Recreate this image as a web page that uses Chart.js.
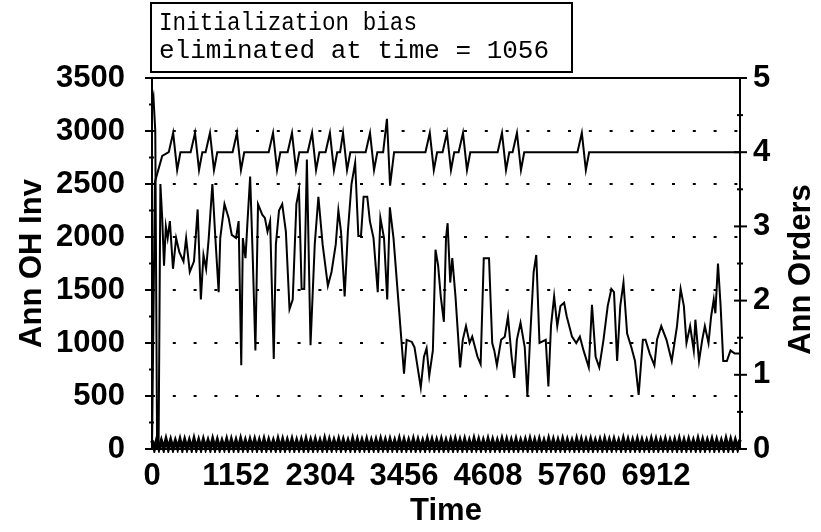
<!DOCTYPE html>
<html>
<head>
<meta charset="utf-8">
<script src="https://cdn.jsdelivr.net/npm/chart.js@4.4.1/dist/chart.umd.min.js"></script>
<style>
  html, body { margin: 0; padding: 0; background: #fff; }
</style>
</head>
<body>
<canvas id="chart" width="821" height="532"></canvas>
<script>
// Time axis ticks (every 1152, last one left unlabelled)
const timeTicks = [0, 1152, 2304, 3456, 4608, 5760, 6912, 8064];
const timeLabels = ['0', '1152', '2304', '3456', '4608', '5760', '6912', ''];

// Ann OH Inv (left axis)
const invTimes = [
  0, 20, 45, 70, 90, 115, 140, 165, 190, 215, 245, 288, 331, 374, 432, 468, 518, 576, 626, 670,
  706, 742, 778, 828, 864, 914, 936, 994, 1051, 1094, 1152, 1188, 1224, 1246, 1282, 1310, 1346, 1382, 1418, 1454,
  1512, 1548, 1584, 1620, 1670, 1699, 1742, 1786, 1836, 1886, 1930, 1980, 2016, 2052, 2088, 2124, 2174, 2232, 2282, 2340,
  2412, 2462, 2520, 2556, 2592, 2642, 2686, 2736, 2786, 2830, 2866, 2902, 2952, 2988, 3038, 3096, 3132, 3182, 3226, 3262,
  3312, 3420, 3456, 3492, 3564, 3600, 3636, 3686, 3730, 3766, 3802, 3852, 3888, 3924, 3960, 4003, 4032, 4054, 4090, 4118,
  4162, 4226, 4262, 4306, 4356, 4392, 4464, 4507, 4550, 4622, 4666, 4694, 4730, 4788, 4838, 4882, 4932, 4968, 5004, 5054,
  5112, 5148, 5184, 5234, 5270, 5314, 5400, 5436, 5472, 5515, 5558, 5602, 5652, 5688, 5760, 5818, 5868, 5918, 5990, 6034,
  6084, 6134, 6192, 6250, 6300, 6336, 6379, 6422, 6466, 6516, 6574, 6624, 6674, 6732, 6768, 6826, 6890, 6926, 6984, 7056,
  7128, 7200, 7250, 7294, 7330, 7380, 7430, 7452, 7502, 7546, 7582, 7632, 7668, 7704, 7726, 7762, 7798, 7834, 7884, 7934,
  7992, 8064
];
const invVals = [
  3250, 3320, 3000, 0, 0, 2500, 2180, 1730, 2100, 1990, 2150, 1700, 1990, 1860, 1770, 1990, 1670, 1770, 2260, 1410,
  1830, 1700, 1990, 2500, 2050, 1480, 1990, 2310, 2180, 2020, 1990, 2150, 790, 1990, 1800, 2150, 2570, 1800, 930, 2310,
  2210, 2180, 2050, 2150, 850, 1930, 2250, 2310, 2050, 1320, 1410, 2310, 2440, 1510, 1510, 2730, 980, 1930, 2380, 1930,
  1540, 1670, 1930, 2250, 2050, 1440, 2050, 2500, 2700, 2010, 2010, 2380, 2380, 2150, 1990, 1480, 2180, 1990, 1410, 2280,
  1990, 1030, 710, 1030, 1010, 960, 800, 580, 870, 950, 690, 930, 1880, 1730, 1440, 1200, 1990, 2130, 1570, 1800,
  1440, 770, 1030, 1160, 1000, 1060, 870, 800, 1800, 1800, 1000, 930, 790, 1030, 1060, 1250, 870, 670, 1030, 1190,
  960, 500, 1030, 1670, 1830, 1000, 1030, 590, 1160, 1440, 1160, 1350, 1380, 1250, 1060, 1000, 1060, 930, 770, 1360,
  870, 770, 1030, 1350, 1510, 1480, 830, 1350, 1570, 1090, 960, 830, 510, 1030, 1030, 900, 790, 1030, 1160, 1030,
  830, 1160, 1510, 1350, 1000, 1160, 930, 1220, 830, 1030, 1160, 1000, 1250, 1410, 1280, 1750, 1350, 830, 830, 930,
  900, 900
];

// Ann Orders (right axis)
const ordTimes = [
  0, 40, 140, 230, 290, 345, 390, 530, 590, 645, 690, 735, 795, 850, 895,
  1105, 1165, 1220, 1265, 1600, 1660, 1715, 1760, 1860, 1920, 1975, 2020,
  2135, 2195, 2250, 2295, 2380, 2440, 2495, 2540, 2580, 2620, 2675, 2720,
  2930, 2990, 3045, 3090, 3170, 3222, 3265, 3320, 3750, 3810, 3865, 3910,
  3985, 4045, 4100, 4145, 4205, 4265, 4320, 4365, 4740, 4800, 4855, 4900,
  4945, 5005, 5060, 5105, 5835, 5895, 5950, 5995, 8064
];
const ordVals = [
  0, 3.6, 3.95, 4, 4.26, 3.76, 4, 4, 4.26, 3.76, 4, 4, 4.26, 3.76, 4,
  4, 4.26, 3.76, 4, 4, 4.26, 3.76, 4, 4, 4.26, 3.76, 4,
  4, 4.26, 3.76, 4, 4, 4.26, 3.76, 4, 4, 4.26, 3.76, 4,
  4, 4.26, 3.76, 4, 4, 4.45, 3.55, 4, 4, 4.26, 3.76, 4,
  4, 4.26, 3.76, 4, 4, 4.26, 3.76, 4, 4, 4.26, 3.76, 4,
  4, 4.26, 3.76, 4, 4, 4.26, 3.76, 4, 4
];

// dense per-period band along the bottom (left axis), one value every 32 time units
const bandStep = 32;
const bandVals = [
  80,0,85,4,78,0,90,2,82,0,76,6,88,0,84,3,79,0,92,1,
  81,0,86,5,77,0,89,2,83,0,75,4,87,0,85,2,80,0,91,3,
  78,0,84,6,86,0,79,1,88,0,82,4,76,0,90,2,85,0,80,5,
  87,0,78,3,83,0,89,1,81,0,86,4,77,0,92,2,84,0,79,6,
  88,0,82,3,76,0,90,1,85,0,80,4,87,0,78,2,83,0,89,5,
  81,0,86,3,77,0,91,1,84,0,79,4,88,0,82,2,76,0,90,6,
  85,0,80,3,87,0,78,1,83,0,89,4,81,0,86,2,77,0,92,5,
  84,0,79,3,88,0,82,1,76,0,90,4,85,0,80,2,87,0,78,6,
  83,0,89,3,81,0,86,1,77,0,91,4,84,0,79,2,88,0,82,5,
  76,0,90,3,85,0,80,1,87,0,78,4,83,0,89,2,81,0,86,6,
  77,0,92,3,84,0,79,1,88,0,82,4,76,0,90,2,85,0,80,5,
  87,0,78,3,83,0,89,1,81,0,86,4,77,0,91,2,84,0,79,6,
  88,0,82,3,76,0,90,1,85,0,80,4,87,0
];

const noteLines = ['Initialization bias', 'eliminated at time = 1056'];

const invPoints = invTimes.map((t, i) => ({ x: t, y: invVals[i] }));
const ordPoints = ordTimes.map((t, i) => ({ x: t, y: ordVals[i] }));
const bandPoints = bandVals.map((v, i) => ({ x: i * bandStep, y: v }));

const labelFont = { family: 'Liberation Sans', size: 31, weight: 'bold' };

// frame, small tick marks, the note box and the right-hand title
const extras = {
  id: 'extras',
  afterDraw(chart) {
    const { ctx, chartArea: a, scales } = chart;
    ctx.save();
    ctx.strokeStyle = '#000';
    ctx.fillStyle = '#000';
    ctx.lineWidth = 2;
    ctx.strokeRect(a.left, a.top, a.right - a.left, a.bottom - a.top);

    // left axis marks: 500 major, 250 minor
    for (let v = 0; v <= 3500; v += 250) {
      const y = scales.y.getPixelForValue(v);
      const major = v % 500 === 0;
      ctx.beginPath();
      ctx.moveTo(a.left - (major ? 7 : 3), y);
      ctx.lineTo(a.left + (major ? 3 : 2), y);
      ctx.stroke();
    }
    // right axis marks: 1 major, 0.5 minor
    for (let v = 0; v <= 5; v += 0.5) {
      const y = scales.y2.getPixelForValue(v);
      const major = v % 1 === 0;
      ctx.beginPath();
      ctx.moveTo(a.right - (major ? 6 : 3), y);
      ctx.lineTo(a.right + (major ? 7 : 3), y);
      ctx.stroke();
    }

    // note box
    ctx.lineWidth = 2;
    ctx.strokeRect(151, 3, 421, 69);
    ctx.font = '26px "Liberation Mono"';
    ctx.textBaseline = 'alphabetic';
    ctx.textAlign = 'left';
    ctx.fillText(noteLines[0], 159, 30, 258);
    ctx.fillText(noteLines[1], 159, 58);

    // right title, reading bottom to top
    ctx.font = 'bold 31px "Liberation Sans"';
    ctx.textAlign = 'center';
    ctx.textBaseline = 'middle';
    ctx.translate(801, (a.top + a.bottom) / 2 + 6);
    ctx.rotate(-Math.PI / 2);
    ctx.fillText('Ann Orders', 0, 0);
    ctx.restore();
  }
};

new Chart(document.getElementById('chart'), {
  type: 'line',
  data: {
    datasets: [
      {
        label: 'Orders per period',
        data: bandPoints,
        yAxisID: 'y',
        borderColor: '#000',
        borderWidth: 3.4,
        pointRadius: 0,
        tension: 0,
        clip: 4
      },
      {
        label: 'Ann OH Inv',
        data: invPoints,
        yAxisID: 'y',
        borderColor: '#000',
        borderWidth: 2,
        pointRadius: 0,
        tension: 0
      },
      {
        label: 'Ann Orders',
        data: ordPoints,
        yAxisID: 'y2',
        borderColor: '#000',
        borderWidth: 2,
        pointRadius: 0,
        tension: 0
      }
    ]
  },
  options: {
    responsive: false,
    animation: false,
    layout: { padding: { top: 78, left: 0, right: 0, bottom: 0 } },
    plugins: { legend: { display: false }, tooltip: { enabled: false } },
    scales: {
      x: {
        type: 'linear',
        min: 0,
        max: 8064,
        afterBuildTicks: (scale) => { scale.ticks = timeTicks.map(v => ({ value: v })); },
        afterFit: (scale) => { scale.height = 83; },
        grid: { display: false },
        border: { display: false },
        ticks: {
          autoSkip: false,
          maxRotation: 0,
          padding: 1,
          color: '#000',
          font: labelFont,
          callback: (v) => timeLabels[timeTicks.indexOf(v)]
        },
        title: { display: true, text: 'Time', color: '#000', font: labelFont, padding: { top: 0, bottom: 2 } }
      },
      y: {
        position: 'left',
        min: 0,
        max: 3500,
        ticks: { stepSize: 500, padding: 27, color: '#000', font: labelFont, callback: (v) => String(v) },
        afterFit: (scale) => { scale.width = 152; },
        border: { display: false, dash: [3, 17.8] },
        grid: {
          drawTicks: false,
          lineWidth: 2,
          color: (c) => (c.tick && (c.tick.value === 0 || c.tick.value === 3500)) ? 'rgba(0,0,0,0)' : '#000'
        },
        title: { display: true, text: 'Ann OH Inv', color: '#000', font: labelFont, padding: { top: 14, bottom: 0 } }
      },
      y2: {
        position: 'right',
        min: 0,
        max: 5,
        ticks: { stepSize: 1, padding: 13, color: '#000', font: labelFont },
        afterFit: (scale) => { scale.width = 81; },
        border: { display: false },
        grid: { drawOnChartArea: false, drawTicks: false }
      }
    }
  },
  plugins: [extras]
});
</script>
</body>
</html>
